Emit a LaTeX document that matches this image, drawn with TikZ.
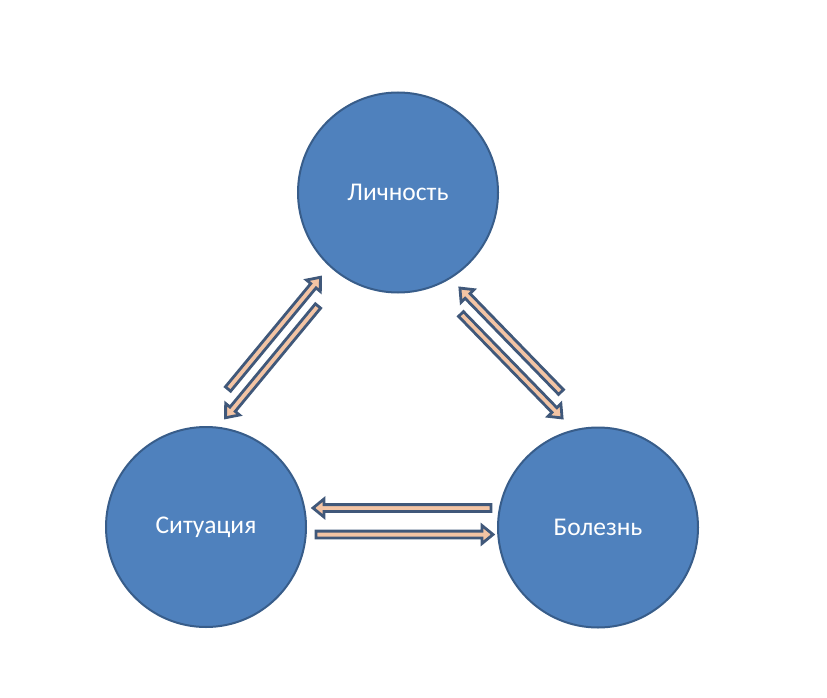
\documentclass[tikz,border=0pt]{standalone}
\usepackage{fontspec}
\setmainfont{Carlito}
\definecolor{circfill}{RGB}{79,129,189}
\definecolor{circline}{RGB}{56,93,138}
\definecolor{arrfill}{RGB}{243,196,164}
\definecolor{arrline}{RGB}{64,88,122}
\tikzset{
  circ/.style={circle, draw=circline, line width=2pt, fill=circfill, minimum size=200pt, inner sep=0pt, text=white, font=\fontsize{25.5}{29}\selectfont},
  arrowline/.style={draw=arrline, fill=arrfill, line width=2.8pt, line join=miter},
  barrow/.pic={\path[arrowline] (0,-3.4) -- (#1-11,-3.4) -- (#1-11,-9) -- (#1,0) -- (#1-11,9) -- (#1-11,3.4) -- (0,3.4) -- cycle;}
}
\begin{document}
\begin{tikzpicture}[x=1pt,y=-1pt]
\useasboundingbox[fill=white] (0,0) rectangle (827,698);
\node[circ] (lich) at (398,192.5) {Личность};
\node[circ] (sit) at (206,527) {Ситуация};
\node[circ] (bol) at (598,527.5) {Болезнь};
% left pair
\pic[rotate=50.4] (a1) at (228,389) {barrow=145};
\pic[rotate=230.4] (a2) at (318,306) {barrow=145};
% right pair
\pic[rotate=134.2] (a3) at (561,392) {barrow=145};
\pic[rotate=-45.8] (a4) at (461,314) {barrow=145};
% bottom pair
\pic[rotate=180] (a5) at (491,508) {barrow=178};
\pic (a6) at (316,534.5) {barrow=177};
\end{tikzpicture}
\end{document}
